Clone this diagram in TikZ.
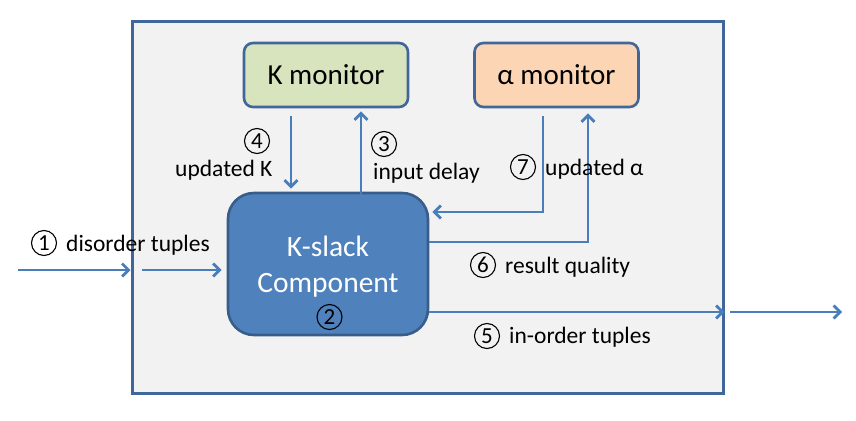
\documentclass[tikz,border=0pt]{standalone}
\usepackage{fontspec}
\setmainfont{Carlito}
\usetikzlibrary{arrows.meta,positioning,calc}
\definecolor{boxfill}{HTML}{F2F2F2}
\definecolor{boxline}{HTML}{41679A}
\definecolor{flowblue}{HTML}{4A7EBB}
\definecolor{kfill}{HTML}{D7E4BD}
\definecolor{afill}{HTML}{FCD5B5}
\definecolor{compfill}{HTML}{4F81BD}
\definecolor{compline}{HTML}{385D8A}

\begin{document}
\begin{tikzpicture}[x=1pt,y=-1pt,>={Straight Barb[length=6.5pt,width=13pt]},
    flow/.style={->,draw=flowblue,line width=2.8pt},
    monitor/.style={rectangle,rounded corners=9pt,draw=boxline,line width=2.6pt,minimum width=164pt,minimum height=64pt,font=\fontsize{29}{29}\selectfont},
    num/.style={circle,draw,line width=1.1pt,inner sep=0pt,minimum size=25pt,font=\fontsize{23}{23}\selectfont},
    lbl/.style={inner sep=0pt,anchor=base west,font=\fontsize{23.5}{23.5}\selectfont}]

    \useasboundingbox (0,0) rectangle (856,420);

    \node[rectangle, draw=boxline, fill=boxfill, line width=3pt, minimum width=591pt, minimum height=371pt, inner sep=0pt] (sys) at (427.5,207.5) {};

    \node[monitor, fill=kfill] (kmon) at (326,75) {K monitor};
    \node[monitor, fill=afill] (amon) at (556.5,75) {α monitor};

    \node[rectangle, rounded corners=26pt, draw=compline, fill=compfill, line width=2.6pt, minimum width=200pt, minimum height=142pt] (kslack) at (328,264) {};
    \node[align=center, text=white, font=\fontsize{29.5}{36}\selectfont] (kname) at ([yshift=-3pt]kslack.center) {K-slack\\Component};
    \node[num] (n2) at (329.5,317) {2};

    % free ends
    \coordinate (in) at (18,270);
    \coordinate (inb) at (142,270);
    \coordinate (outb) at (730,312);
    \coordinate (out) at (842,312);

    % input
    \draw[flow] (in) -- (in -| sys.west);
    \draw[flow] (inb) -- ([xshift=-5pt]inb -| kslack.west);
    \node[num] (n1) at (44,243) {1};
    \node[lbl] (l1) at (66,251) {disorder tuples};

    % K monitor loop
    \draw[flow] ([xshift=-35pt,yshift=-8pt]kmon.south) coordinate (k1) -- ([yshift=3pt]k1 |- kslack.north);
    \draw[flow] ([xshift=33pt,yshift=-3pt]kslack.north) coordinate (k2) -- ([yshift=-3pt]k2 |- kmon.south);
    \node[num] (n4) at (257,141) {4};
    \node[lbl] (l4) at (175,176) {updated K};
    \node[num] (n3) at (384,144) {3};
    \node[lbl] (l3) at (373,179) {input delay};

    % alpha monitor loop
    \draw[flow] ([xshift=-13.5pt,yshift=-8pt]amon.south) coordinate (a1) -- (a1 |- 0,212) coordinate (a2) -- ([xshift=3pt]a2 -| kslack.east);
    \draw[flow] ([yshift=22pt]kslack.east) coordinate (a3) -- (a3 -| 588,0) coordinate (a4) -- ([yshift=-5pt]a4 |- amon.south);
    \node[num] (n7) at (523,167) {7};
    \node[lbl] (l7) at (545,175) {updated α};
    \node[num] (n6) at (483,265) {6};
    \node[lbl] (l6) at (505,273) {result quality};

    % output
    \draw[flow] ([yshift=-48pt]kslack.east) coordinate (o1) -- (o1 -| sys.east);
    \draw[flow] (outb) -- (out);
    \node[num] (n5) at (487,336) {5};
    \node[lbl] (l5) at (509,343) {in-order tuples};
\end{tikzpicture}
\end{document}
